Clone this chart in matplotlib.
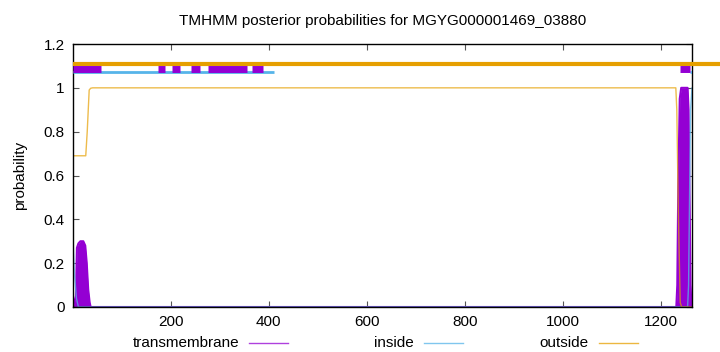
import matplotlib
matplotlib.use("Agg")
import matplotlib.pyplot as plt
from matplotlib.lines import Line2D

plt.rcParams['font.family'] = ['Liberation Sans', 'DejaVu Sans']

# posterior probability knots (residue, value)
tm_x = [1, 7, 9, 12, 16, 22, 26, 29, 32, 35, 37, 1231, 1233, 1235, 1238, 1241, 1254, 1256, 1258, 1260, 1262]
tm_y = [0, 0.05, 0.27, 0.29, 0.30, 0.30, 0.28, 0.20, 0.08, 0.02, 0, 0, 0.1, 0.55, 0.95, 1.0, 1.0, 0.9, 0.5, 0.1, 0]
in_x = [1, 4, 8, 12, 1254, 1256, 1258, 1260, 1263]
in_y = [0.31, 0.15, 0.04, 0, 0, 0.1, 0.5, 0.9, 1.0]
out_x = [1, 27, 30, 34, 37, 41, 1230, 1232, 1235, 1239, 1242, 1263]
out_y = [0.69, 0.69, 0.80, 0.99, 0.998, 1.0, 1.0, 0.9, 0.45, 0.02, 0, 0]

# predicted topology segments drawn above the plot
tm_segs = [(1, 59), (174, 188), (202, 220), (241, 259), (276, 355), (365, 388), (1239, 1259)]
in_segs = [(1, 410), (1259, 1263)]
out_segs = [(1, 1330)]

purple = "#9400D3"
blue = "#56B4E9"
orange = "#E69F00"

fig = plt.figure(figsize=(7.2, 3.52), dpi=100)
ax = fig.add_axes([73 / 720, 45 / 352, 619 / 720, 263 / 352])

for a, b in out_segs:
    ax.plot([a, b], [1.11, 1.11], color=orange, lw=3, solid_capstyle='butt', clip_on=False, zorder=3)
for a, b in in_segs:
    ax.plot([a, b], [1.07, 1.07], color=blue, lw=2, solid_capstyle='butt', zorder=3)
for a, b in tm_segs:
    ax.plot([a, b], [1.088, 1.088], color=purple, lw=5, solid_capstyle='butt', zorder=4)

ax.fill_between(tm_x, tm_y, color=purple, lw=0, zorder=2)
ax.plot(tm_x, tm_y, color=purple, lw=1.5, zorder=2)
ax.plot(in_x, in_y, color=blue, lw=1, alpha=0.75, zorder=2)
ax.plot(out_x, out_y, color=orange, lw=1, alpha=0.7, zorder=2)
ax.axhline(0, color='#3d5566', lw=1, zorder=2.5)

ax.set_xlim(1, 1263)
ax.set_ylim(0, 1.2)
ax.set_xticks([200, 400, 600, 800, 1000, 1200])
ax.set_yticks([0, 0.2, 0.4, 0.6, 0.8, 1.0, 1.2])
ax.set_yticklabels(["0", "0.2", "0.4", "0.6", "0.8", "1", "1.2"])
ax.tick_params(direction='in', length=4, width=0.8, top=True, right=True, labelsize=11, color='#555555', pad=6)
for s in ax.spines.values():
    s.set_linewidth(1)

ax.set_title("TMHMM posterior probabilities for MGYG000001469_03880", fontsize=11, pad=14)
ax.set_ylabel("probability", fontsize=11, labelpad=12)

# key below the plot
key = [("transmembrane", 239, 249, purple), ("inside", 414, 424, blue), ("outside", 589, 599, orange)]
ky = 1 - 343 / 352
for label, tx, lx, c in key:
    fig.text(tx / 720, ky, label, ha='right', va='center', fontsize=11)
    fig.add_artist(Line2D([lx / 720, (lx + 39) / 720], [ky, ky], color=c, lw=1, alpha=0.75))

fig.savefig("out.png", dpi=100)
